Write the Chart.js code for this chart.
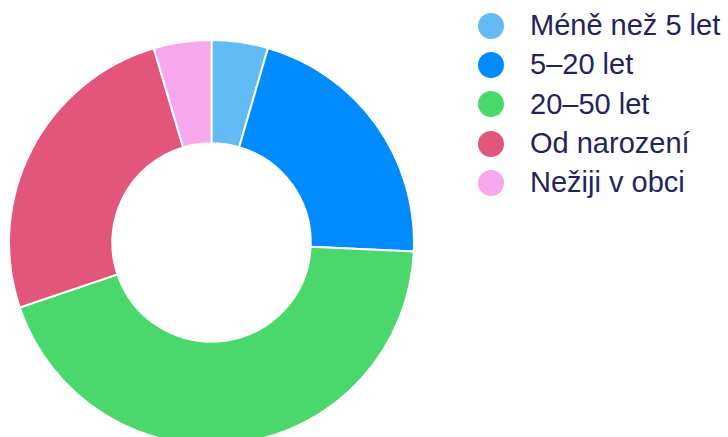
<!DOCTYPE html>
<html>
<head>
<meta charset="utf-8">
<script src="https://cdn.jsdelivr.net/npm/chart.js@4/dist/chart.umd.min.js"></script>
<style>
  html, body { margin: 0; padding: 0; background: #fff; overflow: hidden; }
  body { width: 728px; height: 437px; position: relative; }
  #wrap { position: absolute; left: 8px; top: 39px; width: 407px; height: 407px; }
  #legend { position: absolute; left: 478px; top: 6px; margin: 0; padding: 0; list-style: none;
    font-family: "Liberation Sans", Arial, sans-serif; font-size: 29px; color: #24245c; }
  #legend li { display: flex; align-items: center; height: 39.3px; white-space: nowrap; }
  #legend .dot { width: 26px; height: 26px; border-radius: 50%; margin-right: 26px; flex: none; }
</style>
</head>
<body>
<div id="wrap"><canvas id="chartDonut"></canvas></div>
<ul id="legend"></ul>
<script>
const labels = ['Méně než 5 let', '5–20 let', '20–50 let', 'Od narození', 'Nežiji v obci'];
const values = [4.5, 21.2, 44.1, 25.6, 4.6];
const colors = ['#63bbf6', '#008cff', '#4ad86c', '#e3567c', '#f7a8ec'];

const ctx = document.getElementById('chartDonut');
const chart = new Chart(ctx, {
  type: 'doughnut',
  data: { labels, datasets: [{ data: values, backgroundColor: colors, borderColor: '#fff', borderWidth: 2, hoverOffset: 0 }] },
  options: {
    responsive: true,
    maintainAspectRatio: false,
    animation: false,
    cutout: '49%',
    layout: { padding: 0 },
    plugins: { legend: { display: false }, tooltip: { enabled: false } }
  }
});

// html legend built from the chart's own legend items
const legendEl = document.getElementById('legend');
chart.options.plugins.legend.labels.generateLabels(chart).forEach(item => {
  const li = document.createElement('li');
  const dot = document.createElement('span');
  dot.className = 'dot';
  dot.style.background = item.fillStyle;
  li.appendChild(dot);
  li.appendChild(document.createTextNode(item.text));
  legendEl.appendChild(li);
});
</script>
</body>
</html>
